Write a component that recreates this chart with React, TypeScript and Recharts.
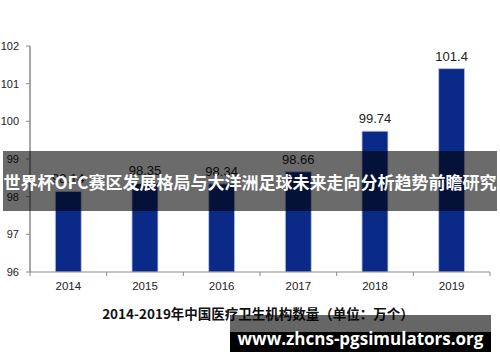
import React from 'react';
import { BarChart, Bar, XAxis, YAxis, LabelList } from 'recharts';

const years = ['2014', '2015', '2016', '2017', '2018', '2019'];
const counts = [98.14, 98.35, 98.34, 98.66, 99.74, 101.4];
const yTicks = [96, 97, 98, 99, 100, 101, 102];
const chartTitle = '2014-2019年中国医疗卫生机构数量（单位：万个）';
const overlayTitle = '世界杯OFC赛区发展格局与大洋洲足球未来走向分析趋势前瞻研究';
const overlaySite = 'www.zhcns-pgsimulators.org';

const data = years.map((y, i) => ({ year: y, value: counts[i] }));

const W = 500;
const H = 362;
const M = { top: 46, right: 10, left: 0, bottom: 60 };
const Y_W = 30;
const PLOT_W = W - M.left - M.right - Y_W;
const BAND = PLOT_W / years.length;
const AXIS_COLOR = '#8a8a8a';

const XTick = (props: any) => {
  const { x, y, payload, index } = props;
  const half = BAND / 2;
  return (
    <g>
      {index === 0 && (
        <line x1={x - half} x2={x - half} y1={y} y2={y + 4} stroke={AXIS_COLOR} strokeWidth={1} />
      )}
      <line x1={x + half} x2={x + half} y1={y} y2={y + 4} stroke={AXIS_COLOR} strokeWidth={1} />
      <text
        x={x}
        y={y + 18}
        textAnchor="middle"
        fontFamily="'Liberation Sans', Arial, sans-serif"
        fontSize={11.5}
        fill="#222"
      >
        {payload.value}
      </text>
    </g>
  );
};

export default function App() {
  return (
    <div style={{ position: 'absolute', left: 0, top: 0, width: W, height: H, background: '#fff', overflow: 'hidden' }}>
      <BarChart width={W} height={H} data={data} margin={M} barCategoryGap="33%">
        <XAxis
          dataKey="year"
          axisLine={{ stroke: AXIS_COLOR, strokeWidth: 1.2 }}
          tickLine={false}
          tickSize={0}
          tickMargin={0}
          height={30}
          tick={<XTick />}
          interval={0}
        />
        <YAxis
          domain={[96, 102]}
          ticks={yTicks}
          width={Y_W}
          axisLine={{ stroke: AXIS_COLOR, strokeWidth: 1.5 }}
          tickLine={{ stroke: AXIS_COLOR }}
          tickSize={4}
          tickMargin={7}
          tick={{ fontFamily: "'Liberation Sans', Arial, sans-serif", fontSize: 11, fill: '#222' }}
          allowDataOverflow
        />
        <Bar dataKey="value" fill="#0b2a88" stroke="#c9d0e6" strokeWidth={0.8} isAnimationActive={false}>
          <LabelList
            dataKey="value"
            position="top"
            offset={8}
            style={{ fontFamily: "'Liberation Sans', Arial, sans-serif", fontSize: 13, fill: '#222' }}
          />
        </Bar>
      </BarChart>
      <div
        style={{
          position: 'absolute',
          left: 0,
          width: W,
          top: 305,
          textAlign: 'center',
          fontFamily: "'Noto Sans CJK SC', sans-serif",
          fontWeight: 700,
          fontSize: 13.5,
          lineHeight: '16px',
          color: '#111',
          paddingLeft: 16,
          boxSizing: 'border-box',
          whiteSpace: 'nowrap',
        }}
      >
        {chartTitle}
      </div>
      <div
        style={{
          position: 'absolute',
          left: 3,
          width: 494,
          top: 151,
          height: 60,
          background: 'rgba(0,0,0,0.58)',
          display: 'flex',
          alignItems: 'center',
          justifyContent: 'center',
          color: '#fff',
          fontFamily: "'Noto Sans CJK SC', sans-serif",
          fontWeight: 700,
          fontSize: 17,
          whiteSpace: 'nowrap',
          overflow: 'hidden',
        }}
      >
        {overlayTitle}
      </div>
      <div
        style={{
          position: 'absolute',
          left: 230,
          width: 261,
          top: 315,
          height: 37,
          background: 'linear-gradient(to bottom, rgba(0,0,0,0.6) 0px, rgba(0,0,0,0.6) 17px, #000 17px, #000 100%)',
          display: 'flex',
          alignItems: 'center',
          justifyContent: 'center',
          paddingTop: 10,
          boxSizing: 'border-box',
          color: '#fff',
          fontFamily: "'Open Sans', sans-serif",
          fontWeight: 700,
          fontSize: 17,
          whiteSpace: 'nowrap',
        }}
      >
        {overlaySite}
      </div>
    </div>
  );
}
